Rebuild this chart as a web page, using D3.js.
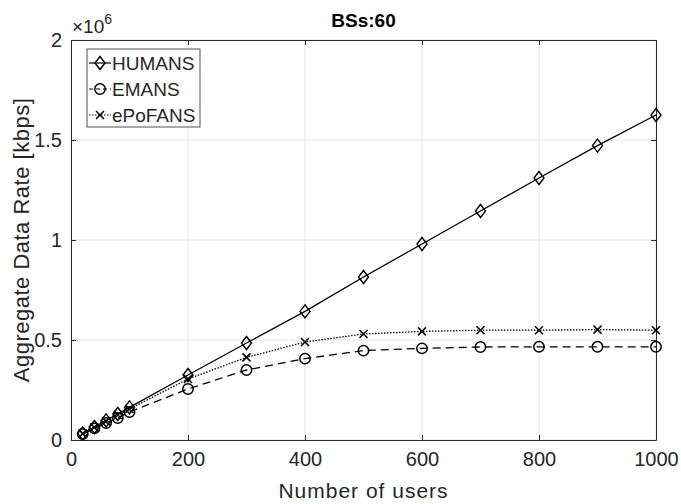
<!DOCTYPE html>
<html>
<head>
<meta charset="utf-8">
<script src="https://cdn.jsdelivr.net/npm/d3@7"></script>
<style>
  body { margin: 0; background: #fff; }
  text { font-family: "Liberation Sans", Arial, sans-serif; }
</style>
</head>
<body>
<div id="chart"></div>
<script>
// users on the x axis
const users = [20, 40, 60, 80, 100, 200, 300, 400, 500, 600, 700, 800, 900, 1000];
// aggregate data rate, in units of 1e6 kbps
const humans = [0.033, 0.065, 0.098, 0.13, 0.163, 0.325, 0.485, 0.643, 0.815, 0.98, 1.145, 1.31, 1.472, 1.625];
const emans = [0.03, 0.058, 0.085, 0.11, 0.14, 0.255, 0.35, 0.407, 0.447, 0.458, 0.465, 0.466, 0.466, 0.466];
const epofans = [0.032, 0.063, 0.094, 0.125, 0.155, 0.305, 0.413, 0.49, 0.53, 0.543, 0.549, 0.549, 0.552, 0.549];
const xTicks = [0, 200, 400, 600, 800, 1000];
const yTicks = [0, 0.5, 1, 1.5, 2];

const series = [
  { name: 'HUMANS', values: humans, dash: null, marker: 'diamond' },
  { name: 'EMANS', values: emans, dash: '8,5', marker: 'circle' },
  { name: 'ePoFANS', values: epofans, dash: '1.5,1.5', marker: 'cross' }
];

const width = 681, height = 504;
const margin = { top: 40, right: 25, bottom: 64, left: 71 };
const innerW = width - margin.left - margin.right;
const innerH = height - margin.top - margin.bottom;

const x = d3.scaleLinear().domain([0, 1000]).range([0, innerW]);
const y = d3.scaleLinear().domain([0, 2]).range([innerH, 0]);

const svg = d3.select('#chart').append('svg')
  .attr('width', width).attr('height', height);
const g = svg.append('g').attr('transform', `translate(${margin.left},${margin.top})`);

// grid
g.append('g').selectAll('line').data(xTicks).join('line')
  .attr('x1', d => x(d)).attr('x2', d => x(d)).attr('y1', 0).attr('y2', innerH)
  .attr('stroke', '#e6e6e6');
g.append('g').selectAll('line').data(yTicks).join('line')
  .attr('y1', d => y(d)).attr('y2', d => y(d)).attr('x1', 0).attr('x2', innerW)
  .attr('stroke', '#e6e6e6');

// axes, ticks pointing inward like matlab
const axColor = '#262626';
const styleAxis = sel => {
  sel.select('.domain').attr('stroke', axColor);
  sel.selectAll('.tick line').attr('stroke', axColor);
  sel.selectAll('.tick text').attr('fill', axColor).attr('font-size', 20);
};
g.append('g').attr('transform', `translate(0,${innerH})`)
  .call(d3.axisBottom(x).tickValues(xTicks).tickFormat(d3.format('d')).tickSize(-5).tickPadding(12).tickSizeOuter(0))
  .call(styleAxis);
g.append('g')
  .call(d3.axisLeft(y).tickValues(yTicks).tickFormat(d3.format('')).tickSize(-5).tickPadding(9).tickSizeOuter(0))
  .call(styleAxis);
g.append('g')
  .call(d3.axisTop(x).tickValues(xTicks).tickSize(-5).tickFormat('').tickSizeOuter(0))
  .call(styleAxis);
g.append('g').attr('transform', `translate(${innerW},0)`)
  .call(d3.axisRight(y).tickValues(yTicks).tickSize(-5).tickFormat('').tickSizeOuter(0))
  .call(styleAxis);
g.selectAll('.domain').attr('stroke', axColor).attr('stroke-width', 1);

// lines
const line = d3.line().x((d, i) => x(users[i])).y(d => y(d));
const drawMarker = (sel, type) => {
  if (type === 'diamond') {
    sel.append('path').attr('d', 'M0,-6.5L5,0L0,6.5L-5,0Z')
      .attr('fill', 'none').attr('stroke', '#000').attr('stroke-width', 1.4);
  } else if (type === 'circle') {
    sel.append('circle').attr('r', 5.2)
      .attr('fill', 'none').attr('stroke', '#000').attr('stroke-width', 1.5);
  } else {
    sel.append('path').attr('d', 'M-4,-4L4,4M-4,4L4,-4')
      .attr('fill', 'none').attr('stroke', '#000').attr('stroke-width', 1.5);
  }
};

series.forEach(s => {
  g.append('path').datum(s.values)
    .attr('d', line)
    .attr('fill', 'none').attr('stroke', '#000').attr('stroke-width', 1.3)
    .attr('stroke-dasharray', s.dash);
  g.append('g').selectAll('g').data(s.values).join('g')
    .attr('transform', (d, i) => `translate(${x(users[i])},${y(d)})`)
    .each(function () { drawMarker(d3.select(this), s.marker); });
});

// legend
const leg = g.append('g').attr('transform', 'translate(16,9)');
leg.append('rect').attr('width', 113).attr('height', 78)
  .attr('fill', '#fff').attr('stroke', axColor).attr('stroke-width', 0.8);
series.forEach((s, i) => {
  const row = leg.append('g').attr('transform', `translate(0,${14 + i * 26})`);
  row.append('line').attr('x1', 2).attr('x2', 24)
    .attr('stroke', '#000').attr('stroke-width', 1.2).attr('stroke-dasharray', s.dash === '8,5' ? '4,3' : s.dash);
  drawMarker(row.append('g').attr('transform', 'translate(13,0)'), s.marker);
  row.append('text').attr('x', 25).attr('y', 7).attr('font-size', 19)
    .attr('fill', axColor).text(s.name);
});

// title and labels
svg.append('text').attr('x', margin.left + innerW / 2).attr('y', 27)
  .attr('text-anchor', 'middle').attr('font-size', 19).attr('font-weight', 'bold')
  .attr('fill', '#000').text('BSs:60');
svg.append('text').attr('x', margin.left + innerW / 2).attr('y', 498)
  .attr('text-anchor', 'middle').attr('font-size', 21).attr('letter-spacing', 1).attr('fill', axColor)
  .text('Number of users');
svg.append('text').attr('transform', `translate(29,${margin.top + innerH / 2}) rotate(-90)`)
  .attr('text-anchor', 'middle').attr('font-size', 22).attr('letter-spacing', 0.5).attr('fill', axColor)
  .text('Aggregate Data Rate [kbps]');
const expo = svg.append('text').attr('x', 72).attr('y', 33).attr('font-size', 19).attr('fill', axColor);
expo.append('tspan').text('×10');
expo.append('tspan').attr('font-size', 14).attr('dy', -9).text('6');
</script>
</body>
</html>
